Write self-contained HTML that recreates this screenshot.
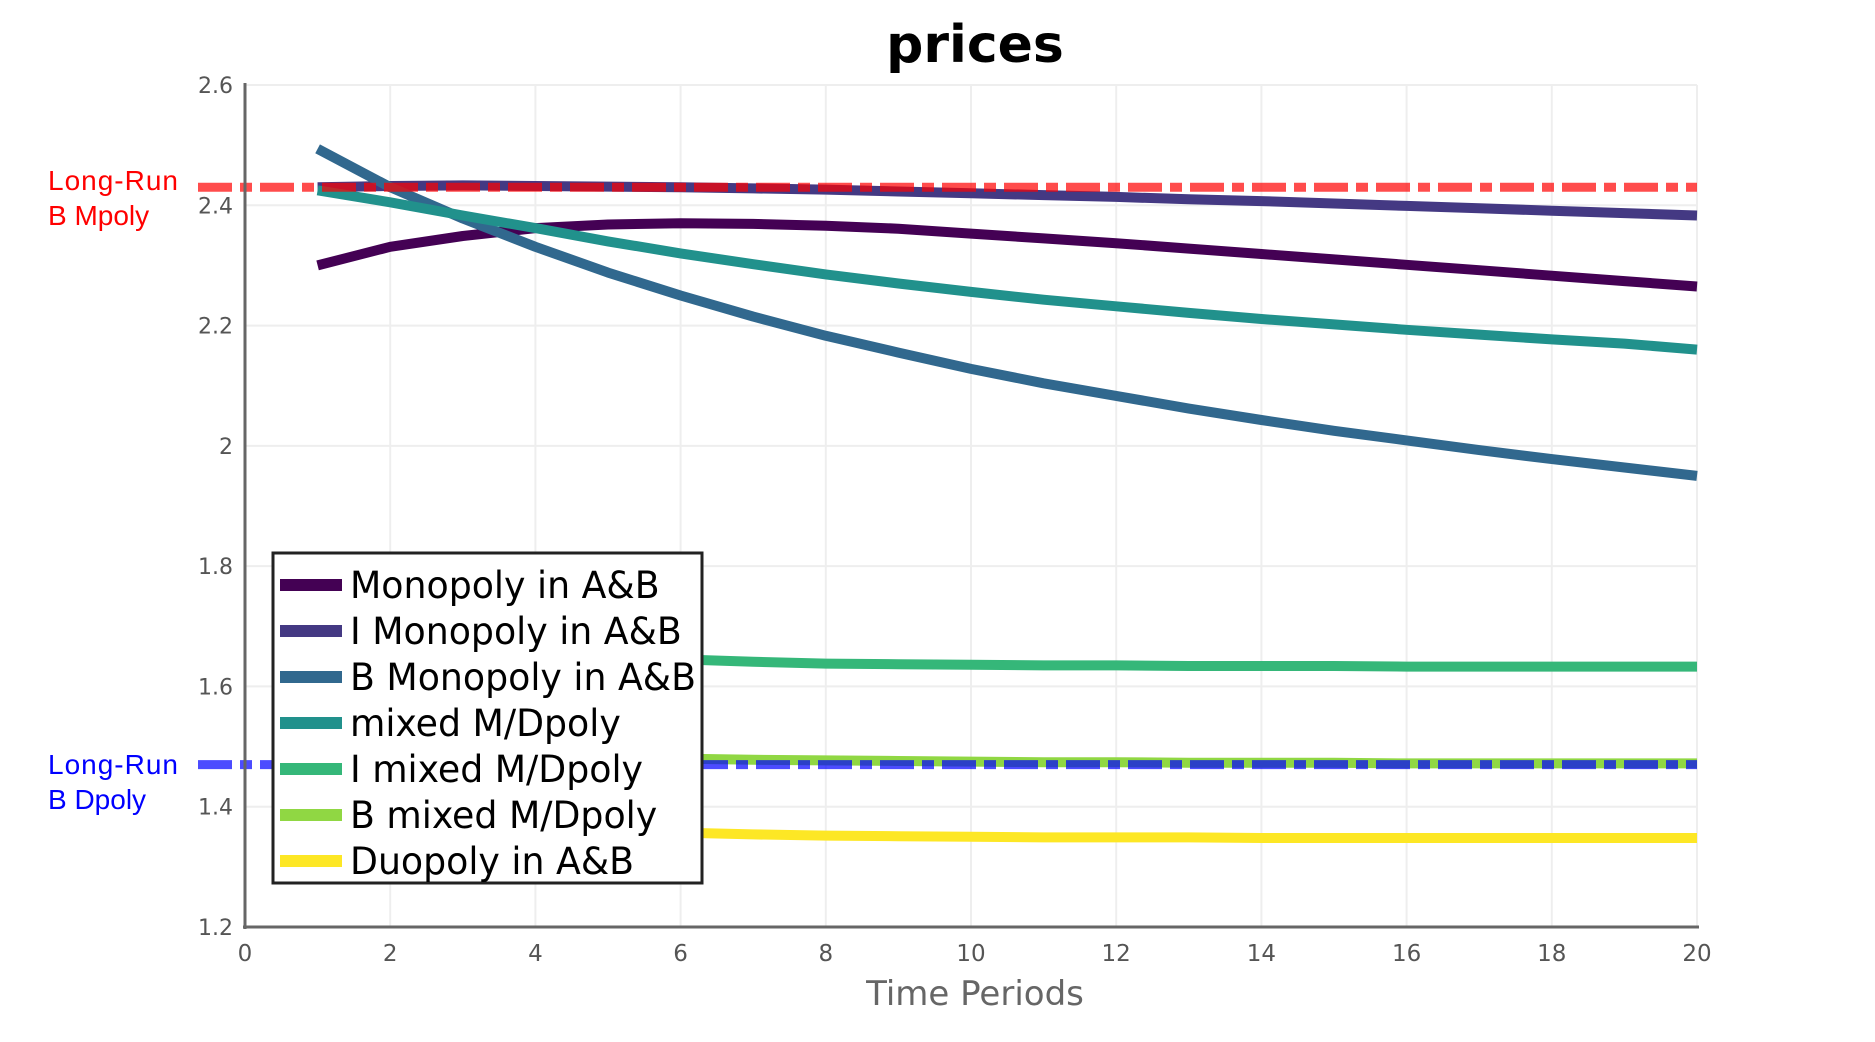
<!DOCTYPE html>
<html><head><meta charset="utf-8"><style>
html,body{margin:0;padding:0;background:#fff;}
svg{display:block;font-family:"DejaVu Sans","Liberation Sans",sans-serif;}
</style></head><body>
<svg id="chart" width="1875" height="1042" viewBox="0 0 1875 1042" xmlns="http://www.w3.org/2000/svg">
<text x="975" y="62" text-anchor="middle" font-size="52" font-weight="bold" fill="#000">prices</text>
<g id="grid"></g>
<g id="ref"></g>
<g id="series"></g>
<g id="axes"></g>
<text x="975" y="1005" text-anchor="middle" font-size="34" fill="#666">Time Periods</text>
<text font-family="Liberation Sans, sans-serif" font-size="28" fill="#ff0000"><tspan x="48" y="190" textLength="130">Long-Run</tspan><tspan x="48" y="225">B Mpoly</tspan></text>
<text font-family="Liberation Sans, sans-serif" font-size="28" fill="#0000ff"><tspan x="48" y="774" textLength="130">Long-Run</tspan><tspan x="48" y="809">B Dpoly</tspan></text>
<g id="legend"></g>
</svg>
<script>
const periods=[1,2,3,4,5,6,7,8,9,10,11,12,13,14,15,16,17,18,19,20];
const xTicks=[0,2,4,6,8,10,12,14,16,18,20];
const yTicks=[1.2,1.4,1.6,1.8,2,2.2,2.4,2.6];
const yTickLabels=["1.2","1.4","1.6","1.8","2","2.2","2.4","2.6"];
const seriesNames=["Monopoly in A&B","I Monopoly in A&B","B Monopoly in A&B","mixed M/Dpoly","I mixed M/Dpoly","B mixed M/Dpoly","Duopoly in A&B"];
const seriesColors=["#440154","#443983","#31688e","#21918c","#35b779","#90d743","#fde725"];
const monopoly=[2.30,2.331,2.349,2.362,2.368,2.370,2.369,2.366,2.361,2.353,2.345,2.337,2.328,2.319,2.310,2.301,2.292,2.283,2.274,2.265];
const iMonopoly=[2.430,2.432,2.433,2.432,2.431,2.430,2.428,2.426,2.423,2.420,2.417,2.414,2.410,2.407,2.403,2.399,2.395,2.391,2.387,2.383];
const bMonopoly=[2.494,2.430,2.378,2.331,2.288,2.250,2.215,2.183,2.155,2.128,2.104,2.083,2.062,2.043,2.025,2.009,1.993,1.978,1.964,1.950];
const mixed=[2.425,2.405,2.383,2.362,2.340,2.320,2.302,2.285,2.270,2.256,2.243,2.232,2.221,2.211,2.202,2.193,2.185,2.177,2.170,2.160];
const iMixed=[1.72,1.69,1.67,1.66,1.65,1.645,1.641,1.638,1.637,1.636,1.635,1.635,1.634,1.634,1.634,1.633,1.633,1.633,1.633,1.633];
const bMixed=[1.50,1.49,1.485,1.482,1.481,1.480,1.478,1.477,1.476,1.475,1.474,1.474,1.473,1.473,1.473,1.472,1.472,1.472,1.472,1.472];
const duopoly=[1.40,1.38,1.37,1.365,1.360,1.357,1.354,1.352,1.351,1.350,1.349,1.349,1.349,1.348,1.348,1.348,1.348,1.348,1.348,1.348];
const seriesValues=[monopoly,iMonopoly,bMonopoly,mixed,iMixed,bMixed,duopoly];
const longRunMpoly=2.43;
const longRunDpoly=1.47;

const NS="http://www.w3.org/2000/svg";
const X0=245,X1=1697,Y0=927,Y1=85,XMIN=0,XMAX=20,YMIN=1.2,YMAX=2.6;
function xs(v){return X0+(v-XMIN)/(XMAX-XMIN)*(X1-X0);}
function ys(v){return Y0-(v-YMIN)/(YMAX-YMIN)*(Y0-Y1);}
function mk(tag,parent,attrs){const e=document.createElementNS(NS,tag);for(const k in attrs)e.setAttribute(k,attrs[k]);parent.appendChild(e);return e;}
const grid=document.getElementById('grid'),axes=document.getElementById('axes'),ref=document.getElementById('ref'),ser=document.getElementById('series'),leg=document.getElementById('legend');
xTicks.forEach(t=>{
  const g=mk('line',grid,{x1:xs(t),x2:xs(t),y1:Y1,y2:Y0,stroke:'#eeeeee','stroke-width':2});
  
  
  const l=mk('text',axes,{x:xs(t),y:Y0+34,'text-anchor':'middle','font-size':23,fill:'#555'});
  l.textContent=String(t);
  
  
});
yTicks.forEach((t,i)=>{
  const g=mk('line',grid,{x1:X0,x2:X1,y1:ys(t),y2:ys(t),stroke:'#eeeeee','stroke-width':2});
  
  
  const l=mk('text',axes,{x:X0-12,y:ys(t)+8,'text-anchor':'end','font-size':22,fill:'#555'});
  l.textContent=yTickLabels[i];
  
  
});
const ya=mk('line',axes,{x1:X0,x2:X0,y1:Y1-2,y2:Y0+2,stroke:'#666','stroke-width':3});


const xa=mk('line',axes,{x1:X0-2,x2:X1+2,y1:Y0,y2:Y0,stroke:'#666','stroke-width':3});



function pathFor(vals){return vals.map((v,i)=>(i?'L':'M')+xs(periods[i]).toFixed(1)+','+ys(v).toFixed(1)).join(' ');}
seriesValues.forEach((vals,i)=>{
  const p=mk('path',ser,{d:pathFor(vals),fill:'none',stroke:seriesColors[i],'stroke-width':10,'stroke-linejoin':'round'});
  
  
});
const r1=mk('line',ser,{x1:198,x2:X1,y1:ys(longRunMpoly),y2:ys(longRunMpoly),stroke:'#ff0000','stroke-opacity':0.7,'stroke-width':9,'stroke-dasharray':'34 8 12 8'});


const r2=mk('line',ser,{x1:198,x2:X1,y1:ys(longRunDpoly),y2:ys(longRunDpoly),stroke:'#0000ff','stroke-opacity':0.7,'stroke-width':9,'stroke-dasharray':'34 8 12 8'});



const box=mk('rect',leg,{x:273,y:553,width:429,height:330,fill:'#fff',stroke:'#222','stroke-width':3});


const texts=[];
seriesNames.forEach((n,i)=>{
  const y=585+i*46;
  const s=mk('rect',leg,{x:280,y:y-6,width:62,height:12,fill:seriesColors[i]});
  
  
  const t=mk('text',leg,{x:350,y:y+13,'font-size':37,fill:'#000','font-family':'"Liberation Sans Narrow","DejaVu Sans Condensed","Liberation Sans",sans-serif'});
  t.textContent=n;
  
  
  texts.push(t);
});
const ref2=texts[2].getComputedTextLength();
const sc=ref2>0?346/ref2:1;
texts.forEach(t=>{const w=t.getComputedTextLength();if(w>0){t.setAttribute('textLength',(w*sc).toFixed(1));t.setAttribute('lengthAdjust','spacingAndGlyphs');}});
</script>
</body></html>
